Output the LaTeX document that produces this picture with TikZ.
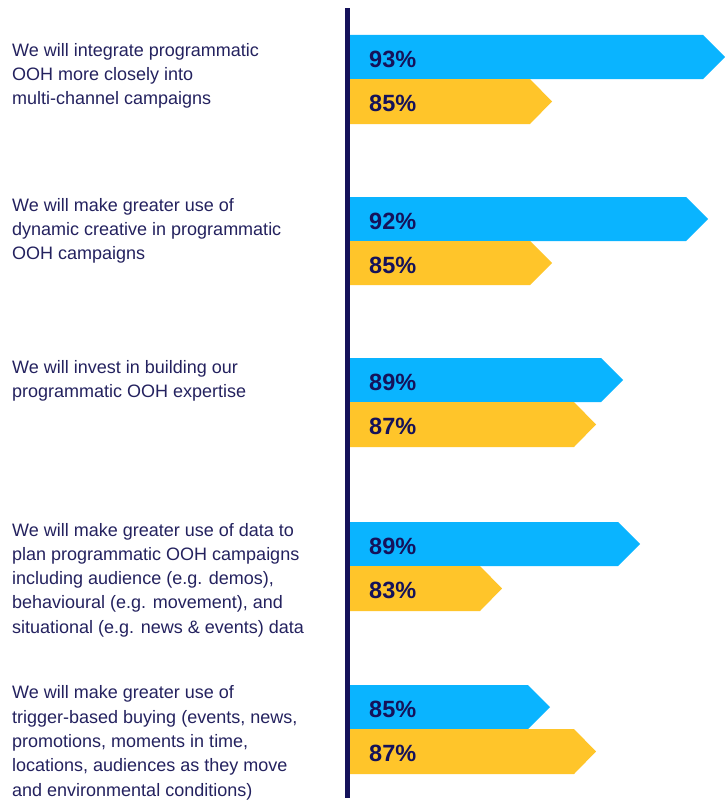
\documentclass[tikz,border=0pt]{standalone}
\usepackage{fontspec}
\setmainfont{Liberation Sans}
\definecolor{barblue}{HTML}{0AB4FF}
\definecolor{baryellow}{HTML}{FFC52A}
\definecolor{navy}{HTML}{15125A}
\definecolor{txt}{HTML}{24225F}
\begin{document}
\begin{tikzpicture}[x=1pt,y=-1pt,
  stmt/.style={anchor=base west,inner sep=0pt,align=left,text=txt,font=\fontsize{18}{24.3}\selectfont},
  pct/.style={anchor=west,inner sep=0pt,text=navy,font=\fontsize{23.5}{24}\selectfont\bfseries}]
\useasboundingbox (0,0) rectangle (725,800);
\fill[white] (0,0) rectangle (725,800);
\newcommand{\drawbar}[6]{%
  \fill[#1] (348,#2) -- ({#4-22},#2) -- (#4,{(#2+#3)/2}) -- ({#4-22},#3) -- (348,#3) -- cycle;
  \node[pct] (#5) at (369,{(#2+#3)/2+2}) {#6};}
\drawbar{barblue}{35}{79}{725}{b1}{93\%}
\drawbar{baryellow}{79}{124}{552}{y1}{85\%}
\drawbar{barblue}{197}{241}{708}{b2}{92\%}
\drawbar{baryellow}{241}{285}{552}{y2}{85\%}
\drawbar{barblue}{358}{402}{623}{b3}{89\%}
\drawbar{baryellow}{402}{447}{596}{y3}{87\%}
\drawbar{barblue}{522}{566}{640}{b4}{89\%}
\drawbar{baryellow}{566}{611}{502}{y4}{83\%}
\drawbar{barblue}{685}{729}{550}{b5}{85\%}
\drawbar{baryellow}{729}{774}{596}{y5}{87\%}
% axis
\fill[navy] (345,8) rectangle (350,798);
% statements (anchored at the baseline of their last line)
\node[stmt] (s1) at (12,104.6) {We will integrate programmatic\\OOH more closely into\\multi-channel campaigns};
\node[stmt] (s2) at (12,259.6) {We will make greater use of\\dynamic creative in programmatic\\OOH campaigns};
\node[stmt] (s3) at (12,397.3) {We will invest in building our\\programmatic OOH expertise};
\node[stmt] (s4) at (12,633.2) {We will make greater use of data to\\plan programmatic OOH campaigns\\including audience (e.g. demos),\\behavioural (e.g. movement), and\\situational (e.g. news \& events) data};
\node[stmt] (s5) at (12,796) {We will make greater use of\\trigger-based buying (events, news,\\promotions, moments in time,\\locations, audiences as they move\\and environmental conditions)};
\end{tikzpicture}
\end{document}
